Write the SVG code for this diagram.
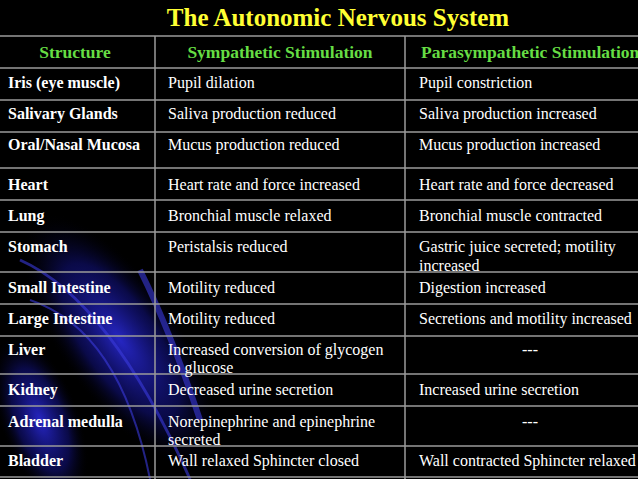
<svg xmlns="http://www.w3.org/2000/svg" width="638" height="479" viewBox="0 0 638 479">
<defs>
<radialGradient id="glow" cx="0.5" cy="0.5" r="0.5">
<stop offset="0" stop-color="#2a2ad8" stop-opacity="0.9"/>
<stop offset="0.6" stop-color="#141490" stop-opacity="0.5"/>
<stop offset="1" stop-color="#000" stop-opacity="0"/>
</radialGradient>
<style>
.g{stroke:#9a9a9a;stroke-width:1.5;fill:none}
.c1{font-family:"Liberation Serif",serif;font-weight:bold;font-size:16px;fill:#fff}
.t{font-family:"Liberation Serif",serif;font-size:16px;fill:#fff}
.h{font-family:"Liberation Serif",serif;font-weight:bold;font-size:17.5px;fill:#66dd44}
.dec{stroke:#3b3bdc;fill:none;stroke-opacity:0.6}
</style>
</defs>
<rect width="638" height="479" fill="#000"/>
<g id="background">
<ellipse cx="120" cy="340" rx="60" ry="150" transform="rotate(-35 120 340)" fill="url(#glow)"/>
<ellipse cx="40" cy="420" rx="40" ry="90" transform="rotate(-20 40 420)" fill="url(#glow)"/>
<path class="dec" stroke-width="3" d="M20 260 Q110 300 190 479"/>
<path class="dec" stroke-width="2" d="M30 300 Q120 330 150 479"/>
<path class="dec" stroke-width="6" d="M140 270 Q170 330 200 420"/>
</g>
<g id="title"><text x="338" y="26" text-anchor="middle" font-family="Liberation Serif,serif" font-weight="bold" font-size="25" fill="#ffff33">The Autonomic Nervous System</text></g>
<g id="grid">
<path class="g" d="M0 36H638M0 68H638M0 100H638M0 132H638M0 168H638M0 200H638M0 232H638M0 272H638M0 304H638M0 336H638M0 374H638M0 406H638M0 446H638M0 477H638M155 36V479M405 36V479"/>
</g>
<g id="header">
<text class="h" x="75" y="58" text-anchor="middle">Structure</text>
<text class="h" x="280" y="58" text-anchor="middle">Sympathetic Stimulation</text>
<text class="h" x="421" y="58">Parasympathetic Stimulation</text>
</g>
<g id="rows">
<text class="c1" x="8" y="88">Iris (eye muscle)</text><text class="t" x="168" y="88">Pupil dilation</text><text class="t" x="419" y="88">Pupil constriction</text>
<text class="c1" x="8" y="119">Salivary Glands</text><text class="t" x="168" y="119">Saliva production reduced</text><text class="t" x="419" y="119">Saliva production increased</text>
<text class="c1" x="8" y="150">Oral/Nasal Mucosa</text><text class="t" x="168" y="150">Mucus production reduced</text><text class="t" x="419" y="150">Mucus production increased</text>
<text class="c1" x="8" y="190">Heart</text><text class="t" x="168" y="190">Heart rate and force increased</text><text class="t" x="419" y="190">Heart rate and force decreased</text>
<text class="c1" x="8" y="221">Lung</text><text class="t" x="168" y="221">Bronchial muscle relaxed</text><text class="t" x="419" y="221">Bronchial muscle contracted</text>
<text class="c1" x="8" y="252">Stomach</text><text class="t" x="168" y="252">Peristalsis reduced</text><text class="t" x="419" y="252">Gastric juice secreted; motility</text><text class="t" x="419" y="271">increased</text>
<text class="c1" x="8" y="293">Small Intestine</text><text class="t" x="168" y="293">Motility reduced</text><text class="t" x="419" y="293">Digestion increased</text>
<text class="c1" x="8" y="324">Large Intestine</text><text class="t" x="168" y="324">Motility reduced</text><text class="t" x="419" y="324">Secretions and motility increased</text>
<text class="c1" x="8" y="355">Liver</text><text class="t" x="168" y="355">Increased conversion of glycogen</text><text class="t" x="168" y="373">to glucose</text><text class="t" x="530" y="355" text-anchor="middle">---</text>
<text class="c1" x="8" y="395">Kidney</text><text class="t" x="168" y="395">Decreased urine secretion</text><text class="t" x="419" y="395">Increased urine secretion</text>
<text class="c1" x="8" y="427">Adrenal medulla</text><text class="t" x="168" y="427">Norepinephrine and epinephrine</text><text class="t" x="168" y="445">secreted</text><text class="t" x="530" y="427" text-anchor="middle">---</text>
<text class="c1" x="8" y="466">Bladder</text><text class="t" x="168" y="466">Wall relaxed Sphincter closed</text><text class="t" x="419" y="466">Wall contracted Sphincter relaxed</text>
</g>
</svg>
